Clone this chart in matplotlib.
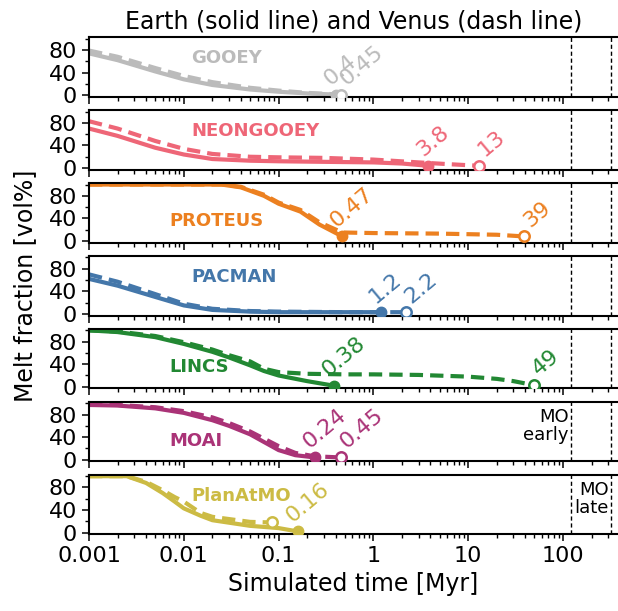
import matplotlib
matplotlib.use("Agg")
import matplotlib.pyplot as plt
from matplotlib.ticker import MultipleLocator, NullFormatter

# values
models = ["GOOEY", "NEONGOOEY", "PROTEUS", "PACMAN", "LINCS", "MOAI", "PlanAtMO"]
colors = ["#BBBBBB", "#EE6677", "#EC8020", "#4477AA", "#228833", "#AA3377", "#CCBB44"]

gooey_earth_t = [0.001, 0.002, 0.005, 0.01, 0.02, 0.05, 0.1, 0.2, 0.4]
gooey_earth_mf = [74, 62, 42, 28, 18, 10, 6, 3, 1]
gooey_venus_t = [0.001, 0.002, 0.005, 0.01, 0.02, 0.05, 0.1, 0.2, 0.45]
gooey_venus_mf = [79, 68, 48, 34, 23, 13, 8, 4, 1]

neon_earth_t = [0.001, 0.002, 0.005, 0.01, 0.02, 0.05, 0.1, 0.3, 1, 2, 3.8]
neon_earth_mf = [70, 57, 36, 24, 16, 13, 12, 11, 10, 8, 4]
neon_venus_t = [0.001, 0.002, 0.005, 0.01, 0.02, 0.05, 0.1, 0.3, 1, 3, 6, 13]
neon_venus_mf = [83, 70, 48, 34, 25, 20, 19, 18, 15, 10, 7, 4]

proteus_earth_t = [0.001, 0.01, 0.025, 0.04, 0.07, 0.1, 0.17, 0.27, 0.47]
proteus_earth_mf = [100, 100, 100, 95, 80, 66, 52, 29, 8]
proteus_venus_t = [0.001, 0.025, 0.04, 0.07, 0.1, 0.17, 0.27, 0.47, 1, 5, 20, 39]
proteus_venus_mf = [100, 100, 96, 82, 68, 55, 33, 15, 14, 13, 11, 8]

pacman_earth_t = [0.001, 0.002, 0.005, 0.01, 0.02, 0.05, 0.1, 0.5, 1.2]
pacman_earth_mf = [62, 50, 30, 15, 7, 4, 3, 3, 3]
pacman_venus_t = [0.001, 0.002, 0.005, 0.01, 0.02, 0.05, 0.1, 0.5, 1, 2.2]
pacman_venus_mf = [70, 57, 35, 18, 9, 5, 4, 3, 3, 3]

lincs_earth_t = [0.001, 0.002, 0.005, 0.01, 0.02, 0.03, 0.05, 0.07, 0.1, 0.2, 0.38]
lincs_earth_mf = [100, 97, 88, 76, 62, 52, 38, 28, 20, 10, 2]
lincs_venus_t = [0.001, 0.002, 0.005, 0.01, 0.02, 0.03, 0.05, 0.07, 0.1, 0.2, 0.5,
                 1, 3, 10, 20, 30, 49]
lincs_venus_mf = [100, 98, 90, 79, 66, 56, 45, 32, 26, 23, 22, 22, 21, 18, 14, 10, 3]

moai_earth_t = [0.001, 0.002, 0.005, 0.01, 0.02, 0.03, 0.05, 0.1, 0.15, 0.24]
moai_earth_mf = [97, 96, 91, 83, 70, 60, 45, 17, 8, 4]
moai_venus_t = [0.001, 0.002, 0.005, 0.01, 0.02, 0.03, 0.05, 0.1, 0.15, 0.24, 0.45]
moai_venus_mf = [98, 97, 93, 86, 75, 65, 50, 24, 12, 6, 4]

planatmo_earth_t = [0.001, 0.0025, 0.004, 0.006, 0.008, 0.01, 0.015, 0.02, 0.05, 0.1, 0.16]
planatmo_earth_mf = [100, 100, 88, 70, 55, 43, 30, 22, 12, 8, 2]
planatmo_venus_t = [0.001, 0.0025, 0.004, 0.006, 0.008, 0.01, 0.015, 0.02, 0.05, 0.085]
planatmo_venus_mf = [100, 100, 90, 75, 63, 55, 35, 28, 19, 18]

earth_labels = ["0.4", "3.8", "0.47", "1.2", "0.38", "0.24", "0.16"]
venus_labels = ["0.45", "13", "39", "2.2", "49", "0.45", None]

name_pos = [(0.012, 65), (0.012, 65), (0.0071, 35), (0.012, 65),
            (0.0071, 35), (0.0071, 33), (0.012, 64)]

mo_lines = [120, 320]
xticks = [0.001, 0.01, 0.1, 1, 10, 100]
xtick_labels = ["0.001", "0.01", "0.1", "1", "10", "100"]

earth = [(gooey_earth_t, gooey_earth_mf), (neon_earth_t, neon_earth_mf),
         (proteus_earth_t, proteus_earth_mf), (pacman_earth_t, pacman_earth_mf),
         (lincs_earth_t, lincs_earth_mf), (moai_earth_t, moai_earth_mf),
         (planatmo_earth_t, planatmo_earth_mf)]
venus = [(gooey_venus_t, gooey_venus_mf), (neon_venus_t, neon_venus_mf),
         (proteus_venus_t, proteus_venus_mf), (pacman_venus_t, pacman_venus_mf),
         (lincs_venus_t, lincs_venus_mf), (moai_venus_t, moai_venus_mf),
         (planatmo_venus_t, planatmo_venus_mf)]

fig, axes = plt.subplots(7, 1, figsize=(6.18, 6.11), dpi=100, sharex=True)
fig.subplots_adjust(left=89 / 618, right=1.0, top=1 - 37.3 / 611,
                    bottom=1 - 534.3 / 611, hspace=0.225)

lw = 3.0
for i, ax in enumerate(axes):
    c = colors[i]
    et, emf = earth[i]
    vt, vmf = venus[i]
    ax.plot(et, emf, color=c, lw=lw, solid_capstyle="butt")
    ax.plot(vt, vmf, color=c, lw=lw, ls="--", dashes=(3.2, 1.7))
    ax.plot(et[-1], emf[-1], "o", color=c, ms=7.5, zorder=5)
    ax.plot(vt[-1], vmf[-1], "o", mfc="white", mec=c, mew=1.8, ms=7.5, zorder=5)

    ax.annotate(earth_labels[i], (et[-1], emf[-1]), xytext=(-2, 4),
                textcoords="offset points", rotation=40, rotation_mode="anchor",
                ha="left", va="bottom", color=c, fontsize=16)
    if venus_labels[i]:
        ax.annotate(venus_labels[i], (vt[-1], vmf[-1]), xytext=(6, 4),
                    textcoords="offset points", rotation=40, rotation_mode="anchor",
                    ha="left", va="bottom", color=c, fontsize=16)

    ax.text(name_pos[i][0], name_pos[i][1], models[i], color=c, fontsize=13,
            fontweight="bold", ha="left", va="center")

    for xv in mo_lines:
        ax.axvline(xv, color="k", ls="--", lw=1, dashes=(3, 2))

    ax.set_xscale("log")
    ax.set_xlim(1e-3, 380)
    ax.set_ylim(-3, 102.5)
    ax.set_yticks([0, 40, 80])
    ax.yaxis.set_minor_locator(MultipleLocator(20))
    ax.spines["right"].set_visible(False)
    for s in ["top", "bottom", "left"]:
        ax.spines[s].set_linewidth(1.5)
    ax.tick_params(which="major", direction="out", length=5, width=1.1, labelsize=16)
    ax.tick_params(which="minor", direction="out", length=3, width=1.0)

axes[5].text(115, 92, "MO\nearly", ha="right", va="top", fontsize=13,
             linespacing=1.0, multialignment="right")
axes[6].text(305, 92, "MO\nlate", ha="right", va="top", fontsize=13,
             linespacing=1.0, multialignment="right")

axes[-1].set_xticks(xticks)
axes[-1].set_xticklabels(xtick_labels)
axes[-1].xaxis.set_minor_formatter(NullFormatter())
axes[-1].set_xlabel("Simulated time [Myr]", fontsize=17)
axes[0].set_title("Earth (solid line) and Venus (dash line)", fontsize=17, pad=6)
fig.text(0.04, (1 - 37.3 / 611 + 1 - 534.3 / 611) / 2, "Melt fraction [vol%]",
         rotation=90, ha="center", va="center", fontsize=17)

fig.savefig("out.png", dpi=100)
